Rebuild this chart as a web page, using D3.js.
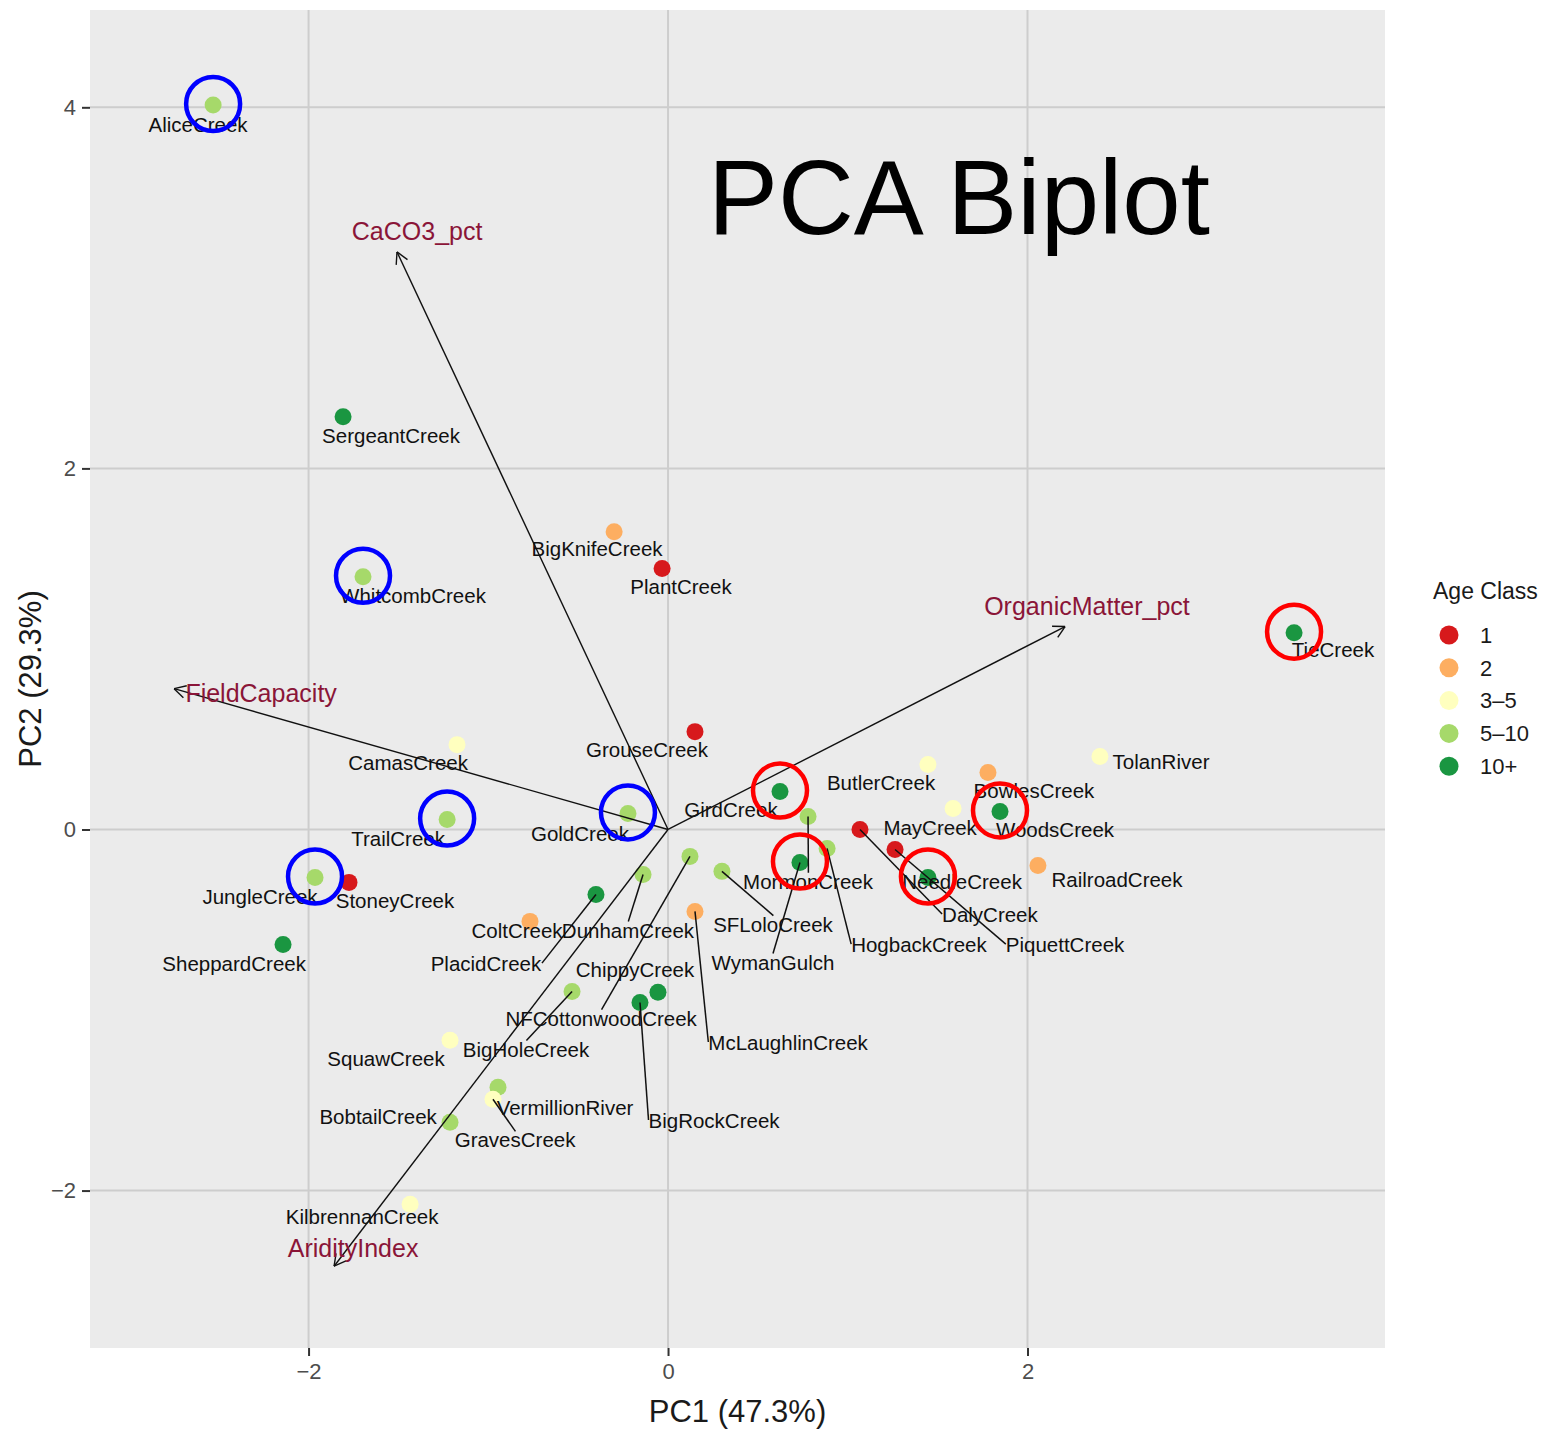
<!DOCTYPE html>
<html>
<head>
	<meta charset="utf-8">
	<title>PCA Biplot</title>
	<script src="https://cdn.jsdelivr.net/npm/d3@7/dist/d3.min.js"></script>
	<style type="text/css">
		body{
			margin: 0;
			padding: 0;
			background: #fff;
		}
		text{
			font-family: "Liberation Sans", Arial, sans-serif;
		}
	</style>
</head>
<body>
	<svg id="svg" width="1555" height="1432"></svg>
<script type="text/javascript">
	// sites, age class and scores
	const sites = ["AliceCreek","SergeantCreek","BigKnifeCreek","PlantCreek","WhitcombCreek","TieCreek","TolanRiver","RailroadCreek",
		"WoodsCreek","BowlesCreek","ButlerCreek","MayCreek","NeedleCreek","GirdCreek","MormonCreek","WymanGulch","HogbackCreek",
		"SFLoloCreek","NFCottonwoodCreek","DunhamCreek","PlacidCreek","ColtCreek","McLaughlinCreek","ChippyCreek","BigRockCreek",
		"BigHoleCreek","SquawCreek","VermillionRiver","GravesCreek","BobtailCreek","KilbrennanCreek","SheppardCreek","JungleCreek",
		"StoneyCreek","TrailCreek","CamasCreek","GoldCreek","GrouseCreek","DalyCreek","PiquettCreek"];
	const ageClass = ["5–10","10+","2","1","5–10","10+","3–5","2",
		"10+","2","3–5","3–5","10+","10+","5–10","10+","5–10",
		"5–10","5–10","5–10","10+","2","2","10+","10+",
		"5–10","3–5","5–10","3–5","5–10","3–5","10+","5–10",
		"1","5–10","3–5","5–10","1","1","1"];
	const pc1 = [-2.531,-1.808,-0.300,-0.033,-1.697,3.483,2.403,2.058,
		1.847,1.780,1.446,1.586,1.446,0.623,0.779,0.734,0.885,
		0.300,0.122,-0.139,-0.401,-0.768,0.150,-0.056,-0.156,
		-0.534,-1.213,-0.946,-0.974,-1.213,-1.435,-2.142,-1.964,
		-1.775,-1.229,-1.174,-0.223,0.150,1.068,1.263];
	const pc2 = [4.013,2.286,1.649,1.445,1.400,1.090,0.404,-0.199,
		0.100,0.315,0.360,0.116,-0.266,0.210,0.072,-0.183,-0.105,
		-0.232,-0.149,-0.249,-0.360,-0.509,-0.454,-0.902,-0.958,
		-0.897,-1.168,-1.428,-1.494,-1.622,-2.076,-0.637,-0.266,
		-0.293,0.055,0.470,0.089,0.542,0.000,-0.111];
	// where the repelled labels ended up (label centre, same units)
	const labelPC1 = [-2.615,-1.541,-0.395,0.072,-1.419,3.700,2.743,2.498,
		2.153,2.036,1.185,1.458,1.636,0.350,0.779,0.584,1.396,
		0.584,-0.372,-0.223,-1.013,-0.840,0.668,-0.184,0.256,
		-0.790,-1.569,-0.573,-0.851,-1.613,-1.702,-2.414,-2.270,
		-1.519,-1.502,-1.446,-0.490,-0.117,1.791,2.209];
	const labelPC2 = [3.902,2.181,1.555,1.345,1.295,0.996,0.376,-0.277,
		0.000,0.216,0.260,0.011,-0.288,0.111,-0.288,-0.736,-0.637,
		-0.526,-1.046,-0.559,-0.742,-0.559,-1.179,-0.780,-1.611,
		-1.218,-1.273,-1.539,-1.721,-1.589,-2.148,-0.742,-0.371,
		-0.393,-0.050,0.371,-0.022,0.443,-0.470,-0.637];

	// variable loadings (arrow tips) and their label centres
	const variables = ["CaCO3_pct","FieldCapacity","OrganicMatter_pct","AridityIndex"];
	const loadPC1 = [-1.508,-2.748,2.209,-1.858];
	const loadPC2 = [3.199,0.780,1.124,-2.419];
	const varLabelPC1 = [-1.396,-2.264,2.331,-1.752];
	const varLabelPC2 = [3.315,0.753,1.234,-2.319];

	const classes = ["1","2","3–5","5–10","10+"];
	const classColors = ["#d7191c","#fdae61","#ffffbf","#a6d96a","#1a9641"];
	const xTicks = [-2,0,2];
	const yTicks = [-2,0,2,4];

	// hand-drawn rings in the picture
	const blueRings = ["AliceCreek","WhitcombCreek","TrailCreek","JungleCreek","GoldCreek"];
	const redRings = ["TieCreek","GirdCreek","WymanGulch","NeedleCreek","WoodsCreek"];

	let svg = d3.select('#svg');
	let panel = {left:90, top:10, right:1385, bottom:1348};

	let x = d3.scaleLinear().domain([-3.216,3.989]).range([panel.left,panel.right]);
	let y = d3.scaleLinear().domain([-2.872,4.539]).range([panel.bottom,panel.top]);
	let color = d3.scaleOrdinal().domain(classes).range(classColors);
	let fmt = d => d<0 ? '\u2212'+Math.abs(d) : ''+d;

	svg.append('rect')
		.attr('x',panel.left).attr('y',panel.top)
		.attr('width',panel.right-panel.left).attr('height',panel.bottom-panel.top)
		.style('fill','#ebebeb');

	// grid
	svg.append('g').selectAll('line').data(xTicks).enter().append('line')
		.attr('x1',d=>x(d)).attr('x2',d=>x(d))
		.attr('y1',panel.top).attr('y2',panel.bottom)
		.style('stroke','#cdcdcd').style('stroke-width',2);
	svg.append('g').selectAll('line').data(yTicks).enter().append('line')
		.attr('x1',panel.left).attr('x2',panel.right)
		.attr('y1',d=>y(d)).attr('y2',d=>y(d))
		.style('stroke','#cdcdcd').style('stroke-width',2);

	// axes
	let xAxis = svg.append('g')
		.attr('transform','translate(0,'+panel.bottom+')')
		.call(d3.axisBottom(x).tickValues(xTicks).tickFormat(fmt).tickSize(8).tickPadding(7));
	let yAxis = svg.append('g')
		.attr('transform','translate('+panel.left+',0)')
		.call(d3.axisLeft(y).tickValues(yTicks).tickFormat(fmt).tickSize(8).tickPadding(6));
	[xAxis,yAxis].forEach(function(a){
		a.select('.domain').remove();
		a.selectAll('line').style('stroke','#333').style('stroke-width',2);
		a.selectAll('text').style('font-size','22px').style('fill','#4d4d4d')
			.style('font-family','"Liberation Sans", Arial, sans-serif');
	});

	svg.append('text')
		.attr('x',(panel.left+panel.right)/2).attr('y',1422)
		.style('text-anchor','middle').style('font-size','31px').style('fill','#1a1a1a')
		.text('PC1 (47.3%)');
	svg.append('text')
		.attr('transform','translate(41,'+((panel.top+panel.bottom)/2)+') rotate(-90)')
		.style('text-anchor','middle').style('font-size','31px').style('fill','#1a1a1a')
		.text('PC2 (29.3%)');

	// points
	svg.append('g').selectAll('circle').data(sites).enter().append('circle')
		.attr('cx',(d,i)=>x(pc1[i])).attr('cy',(d,i)=>y(pc2[i]))
		.attr('r',8.5)
		.style('fill',(d,i)=>color(ageClass[i]));

	// loading arrows
	let arrows = svg.append('g');
	variables.forEach(function(v,i){
		let x0 = x(0), y0 = y(0), x1 = x(loadPC1[i]), y1 = y(loadPC2[i]);
		arrows.append('line')
			.attr('x1',x0).attr('y1',y0).attr('x2',x1).attr('y2',y1)
			.style('stroke','#111').style('stroke-width',1.4);
		let ang = Math.atan2(y1-y0,x1-x0);
		[-0.5,0.5].forEach(function(da){
			arrows.append('line')
				.attr('x1',x1).attr('y1',y1)
				.attr('x2',x1-13*Math.cos(ang+da)).attr('y2',y1-13*Math.sin(ang+da))
				.style('stroke','#111').style('stroke-width',1.4);
		});
		arrows.append('text')
			.attr('x',x(varLabelPC1[i])).attr('y',y(varLabelPC2[i]))
			.attr('dy','0.35em')
			.style('text-anchor','middle').style('font-size','25px').style('fill','#8a1538')
			.text(v);
	});

	// site labels with repel-style segments
	let labels = svg.append('g');
	let segs = svg.append('g');
	sites.forEach(function(s,i){
		let t = labels.append('text')
			.attr('x',x(labelPC1[i])).attr('y',y(labelPC2[i]))
			.attr('dy','0.35em')
			.style('text-anchor','middle').style('font-size','20.5px').style('fill','#111')
			.text(s);
		let b = t.node().getBBox();
		let box = {x1:b.x, x2:b.x+b.width, y1:b.y+3, y2:b.y+b.height-3};
		let px = x(pc1[i]), py = y(pc2[i]);
		let dx = px<box.x1 ? box.x1-px : (px>box.x2 ? px-box.x2 : 0);
		let dy = py<box.y1 ? box.y1-py : (py>box.y2 ? py-box.y2 : 0);
		if(Math.hypot(dx,dy) < 20) return;
		let ex, ey;
		if(dx>0){
			ex = px<box.x1 ? box.x1 : box.x2;
			ey = (box.y1+box.y2)/2;
		}else{
			ex = (box.x1+box.x2)/2;
			ey = py<box.y1 ? box.y1 : box.y2;
		}
		segs.append('line')
			.attr('x1',px).attr('y1',py).attr('x2',ex).attr('y2',ey)
			.style('stroke','#111').style('stroke-width',1.5);
	});

	// rings
	let rings = svg.append('g');
	[[blueRings,'#0000ff'],[redRings,'#ff0000']].forEach(function(r){
		r[0].forEach(function(name){
			let i = sites.indexOf(name);
			rings.append('circle')
				.attr('cx',x(pc1[i])).attr('cy',y(pc2[i])-1)
				.attr('r',27)
				.style('fill','none').style('stroke',r[1]).style('stroke-width',4.5);
		});
	});

	// title
	svg.append('text')
		.attr('x',708).attr('y',234)
		.style('font-size','105px').style('fill','#000')
		.text('PCA Biplot');

	// legend
	let legend = svg.append('g');
	legend.append('text')
		.attr('x',1433).attr('y',599)
		.style('font-size','23px').style('fill','#1a1a1a')
		.text('Age Class');
	classes.forEach(function(c,i){
		let ly = 635+i*32.8;
		legend.append('circle')
			.attr('cx',1449).attr('cy',ly).attr('r',9.5)
			.style('fill',color(c));
		legend.append('text')
			.attr('x',1480).attr('y',ly).attr('dy','0.35em')
			.style('font-size','22px').style('fill','#1a1a1a')
			.text(c);
	});
</script>
</body>
</html>
